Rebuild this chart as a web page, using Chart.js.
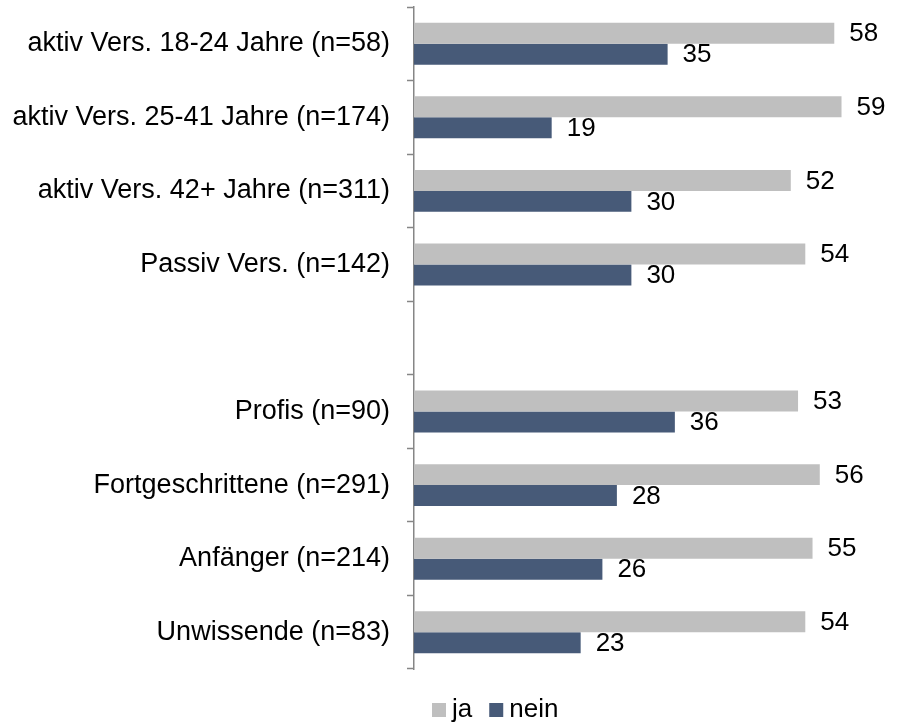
<!DOCTYPE html>
<html>
<head>
<meta charset="utf-8">
<script src="https://cdn.jsdelivr.net/npm/chart.js@4/dist/chart.umd.min.js"></script>
<style>
  html, body { margin: 0; padding: 0; background: #fff; }
  #wrap { width: 898px; height: 722px; position: relative; }
</style>
</head>
<body>
<div id="wrap"><canvas id="c" width="898" height="722"></canvas></div>
<script>
// Gruppen (leerer Eintrag = Abstand zwischen den beiden Blöcken)
const categories = [
  'aktiv Vers. 18-24 Jahre (n=58)',
  'aktiv Vers. 25-41 Jahre (n=174)',
  'aktiv Vers. 42+ Jahre (n=311)',
  'Passiv Vers. (n=142)',
  '',
  'Profis (n=90)',
  'Fortgeschrittene (n=291)',
  'Anfänger (n=214)',
  'Unwissende (n=83)'
];
const jaValues   = [58, 59, 52, 54, null, 53, 56, 55, 54];
const neinValues = [35, 19, 30, 30, null, 36, 28, 26, 23];
const seriesNames = ['ja', 'nein'];

const FONT = '"Liberation Sans", Arial, sans-serif';
const COLORS = ['#bfbfbf', '#475a78'];

// Werte rechts neben den Balken
const valueLabels = {
  id: 'valueLabels',
  afterDatasetsDraw(chart) {
    const ctx = chart.ctx;
    ctx.save();
    ctx.font = '26px ' + FONT;
    ctx.fillStyle = '#000';
    ctx.textAlign = 'left';
    ctx.textBaseline = 'middle';
    chart.data.datasets.forEach((ds, di) => {
      chart.getDatasetMeta(di).data.forEach((bar, i) => {
        const v = ds.data[i];
        if (v === null || v === undefined) return;
        ctx.fillText(String(v), bar.x + 15, bar.y + 1);
      });
    });
    ctx.restore();
  }
};

// Legende unter dem Diagramm
const bottomLegend = {
  id: 'bottomLegend',
  afterDraw(chart) {
    const ctx = chart.ctx;
    const left = chart.chartArea.left;
    ctx.save();
    ctx.font = '26px ' + FONT;
    ctx.textBaseline = 'alphabetic';
    ctx.textAlign = 'left';
    let x = left + 18;
    const baseY = 717;
    seriesNames.forEach((name, i) => {
      ctx.fillStyle = COLORS[i];
      ctx.fillRect(x, 703, 14, 14);
      ctx.fillStyle = '#000';
      ctx.fillText(name, x + 20, baseY);
      x += 20 + ctx.measureText(name).width + 17;
    });
    ctx.restore();
  }
};

new Chart(document.getElementById('c'), {
  type: 'bar',
  data: {
    labels: categories,
    datasets: [
      { label: seriesNames[0], data: jaValues,   backgroundColor: COLORS[0], borderWidth: 0 },
      { label: seriesNames[1], data: neinValues, backgroundColor: COLORS[1], borderWidth: 0 }
    ]
  },
  options: {
    indexAxis: 'y',
    responsive: false,
    animation: false,
    devicePixelRatio: 1,
    layout: { padding: { top: 7, right: 13, bottom: 53, left: 0 } },
    plugins: {
      legend: { display: false },
      tooltip: { enabled: false }
    },
    datasets: {
      bar: { categoryPercentage: 0.57, barPercentage: 1.0 }
    },
    scales: {
      x: {
        display: false,
        min: 0,
        max: 65
      },
      y: {
        afterFit(scale) {
          scale.width = 414;
          scale.paddingTop = 0;
          scale.paddingBottom = 0;
        },
        grid: {
          display: true,
          drawOnChartArea: false,
          offset: true,
          tickLength: 7,
          tickColor: '#868686',
          tickWidth: 1.5
        },
        border: { display: true, color: '#868686', width: 1.5 },
        ticks: {
          color: '#000',
          padding: 17,
          font: { family: FONT, size: 27 },
          autoSkip: false
        }
      }
    }
  },
  plugins: [valueLabels, bottomLegend]
});
</script>
</body>
</html>
